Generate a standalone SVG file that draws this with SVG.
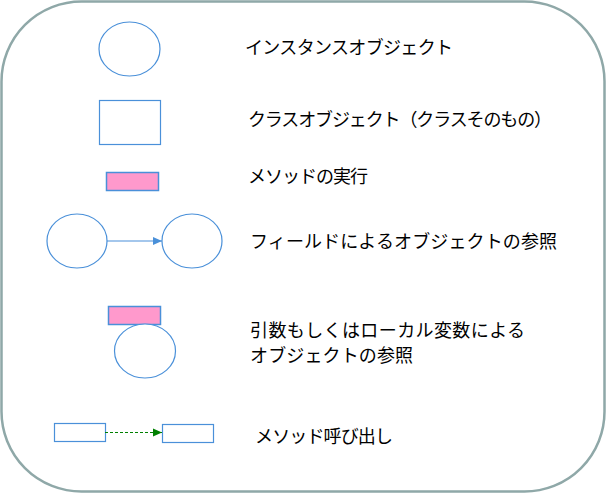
<svg xmlns="http://www.w3.org/2000/svg" width="607" height="494" viewBox="0 0 607 494">
<defs>
<style>
.node{fill:#ffffff;stroke:#4A90D9;stroke-width:1.2}
.pink{fill:#FF99CC;stroke:#4A90D9;stroke-width:1.5}
.lbl{font-family:"Noto Sans CJK JP","Liberation Sans",sans-serif;font-size:18px;fill:#000000}
</style>
<marker id="ab" markerWidth="10" markerHeight="10" refX="9" refY="5" orient="auto" markerUnits="userSpaceOnUse"><path d="M0,1 L9,5 L0,9 Z" fill="#4A90D9"/></marker>
<marker id="ag" markerWidth="10" markerHeight="10" refX="9" refY="5" orient="auto" markerUnits="userSpaceOnUse"><path d="M0,1 L9,5 L0,9 Z" fill="#008000"/></marker>
</defs>
<rect x="1.5" y="1.5" width="603" height="490" rx="80" ry="80" fill="#ffffff" stroke="#8FA8A8" stroke-width="2.5"/>
<g id="n-instance"><ellipse class="node" cx="129.5" cy="49" rx="30.5" ry="27"/></g>
<g id="n-class"><rect class="node" x="99.5" y="100.5" width="61" height="44"/></g>
<g id="n-method"><rect class="pink" x="106.5" y="172.5" width="52" height="18"/></g>
<g id="n-field-a"><ellipse class="node" cx="77" cy="241" rx="30" ry="27"/></g>
<g id="n-field-b"><ellipse class="node" cx="192" cy="241" rx="30" ry="27"/></g>
<g id="n-arg-method"><rect class="pink" x="108.5" y="306.5" width="52" height="18"/></g>
<g id="n-arg-obj"><ellipse class="node" cx="145" cy="351" rx="30.5" ry="27"/></g>
<g id="n-call-a"><rect class="node" x="54.5" y="423.5" width="51" height="18"/></g>
<g id="n-call-b"><rect class="node" x="162.5" y="424.5" width="51" height="18"/></g>
<g id="connectors">
<line x1="107" y1="241" x2="162" y2="241" stroke="#4A90D9" stroke-width="1.2" marker-end="url(#ab)"/>
<line x1="105" y1="432.5" x2="162" y2="432.5" stroke="#008000" stroke-width="1.2" stroke-dasharray="3,2" marker-end="url(#ag)"/>
</g>
<g id="labels">
<text class="lbl" x="245" y="54" textLength="208" lengthAdjust="spacing">インスタンスオブジェクト</text>
<text class="lbl" x="248" y="126" textLength="304" lengthAdjust="spacing">クラスオブジェクト（クラスそのもの）</text>
<text class="lbl" x="248" y="183" textLength="120" lengthAdjust="spacing">メソッドの実行</text>
<text class="lbl" x="250" y="248" textLength="307" lengthAdjust="spacing">フィールドによるオブジェクトの参照</text>
<text class="lbl" x="250" y="337" textLength="275" lengthAdjust="spacing">引数もしくはローカル変数による</text>
<text class="lbl" x="250" y="362" textLength="163" lengthAdjust="spacing">オブジェクトの参照</text>
<text class="lbl" x="255" y="443" textLength="138" lengthAdjust="spacing">メソッド呼び出し</text>
</g>
</svg>
